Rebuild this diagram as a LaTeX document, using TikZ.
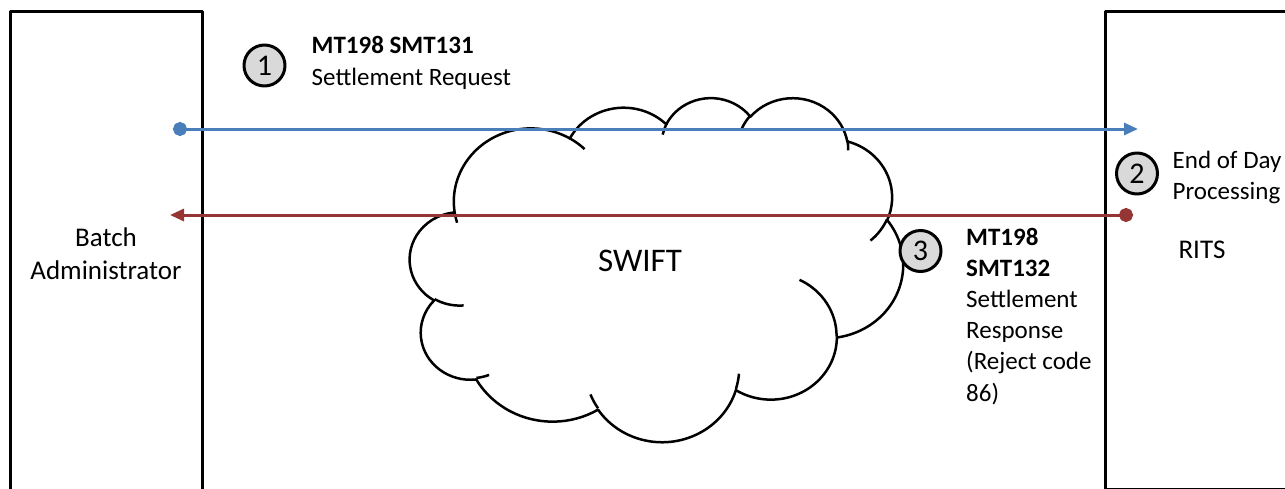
\documentclass[tikz,border=0pt]{standalone}
\usepackage{fontspec}
\setmainfont{Carlito}
\usetikzlibrary{arrows.meta}
\definecolor{reqblue}{RGB}{74,126,187}
\definecolor{resred}{RGB}{150,54,52}
\definecolor{stepgray}{RGB}{217,217,217}
% arc of the Office cloud: x radius, y radius, visual start angle, visual sweep
\newcommand\cloudarc[4]{%
  arc[start angle={atan2((#1)*sin(#3),(#2)*cos(#3))},
      delta angle={atan2((#1)*sin((#3)+(#4)),(#2)*cos((#3)+(#4)))-atan2((#1)*sin(#3),(#2)*cos(#3))+360*round(((#4)-atan2((#1)*sin((#3)+(#4)),(#2)*cos((#3)+(#4)))+atan2((#1)*sin(#3),(#2)*cos(#3)))/360)},
      x radius=#1, y radius=#2]}
\tikzset{
  party/.style={draw, line width=3pt, minimum width=192pt, inner sep=0pt,
    align=center, font=\fontsize{27}{33}\selectfont},
  stepnum/.style={circle, draw, line width=3pt, fill=stepgray,
    minimum size=41pt, inner sep=0pt, font=\fontsize{30}{30}\selectfont},
  msg/.style={anchor=base west, inner sep=0pt, align=left,
    font=\fontsize{25}{31.2}\selectfont},
  flow/.style={line width=3pt},
  cloudline/.style={line width=2.5pt, draw=black},
}
\begin{document}
\begin{tikzpicture}[x=1pt, y=-1pt, line join=round]
\useasboundingbox (0,0) rectangle (1285,488);
\clip (0,0) rectangle (1285,488);

% participants
\node[party, minimum height=486pt] (admin) at (106,254) {Batch\\Administrator};
\node[party, minimum width=194pt, minimum height=478pt] (rits) at (1202,250) {RITS};

% SWIFT cloud (Office cloud geometry)
\begin{scope}[shift={(410,97)}, x=1.1412pt, y=-0.7963pt]
  \draw[cloudline, fill=white] (39,143.7)
    \cloudarc{67.53}{91.90}{-190.4875}{123.7805}
    \cloudarc{53.33}{72.67}{-144.1024}{89.9452}
    \cloudarc{43.65}{59.45}{-145.8079}{99.7230}
    \cloudarc{48.57}{65.95}{-130.9861}{117.2417}
    \cloudarc{53.33}{72.73}{-78.7089}{109.0269}
    \cloudarc{67.75}{92.20}{-46.2673}{130.2690}
    \cloudarc{57.85}{78.67}{0.6250}{114.0333}
    \cloudarc{67.52}{92.15}{22.4516}{115.1726}
    \cloudarc{77.20}{105.43}{66.2426}{75.7110}
    \cloudarc{43.60}{59.18}{-274.9421}{146.7356}
    \cloudarc{43.45}{59.45}{-246.8285}{152.5189}
    -- cycle;
  \draw[cloudline]
    (46.93,261.77) \cloudarc{43.45}{59.45}{86.7420}{26.4295}
    (69.28,348.99) \cloudarc{43.60}{59.18}{73.6105}{11.4475}
    (164.78,390.90) \cloudarc{67.52}{92.15}{137.6242}{14.0811}
    (288.27,347.51) \cloudarc{67.52}{92.15}{6.4533}{15.9984}
    (341.29,229.54) \cloudarc{57.85}{78.67}{-70.2924}{70.9174}
    (417.98,153.54) \cloudarc{53.33}{72.73}{30.3180}{27.7515}
    (383.24,54.26) \cloudarc{48.57}{65.95}{-13.7443}{14.8589}
    (290.78,39.52) \cloudarc{48.57}{65.95}{-149.1815}{18.1954}
    (221.41,47.20) \cloudarc{43.65}{59.45}{-163.4943}{17.6864}
    (140.00,51.92) \cloudarc{67.53}{91.90}{-66.7070}{12.3194}
    (41.27,157.89) \cloudarc{67.53}{91.90}{157.6544}{11.8582};
\end{scope}
\node[font=\fontsize{33}{33}\selectfont] (swift) at (640,261) {SWIFT};

% message flows
\coordinate (reqstart) at (173,129);
\coordinate (reqend) at (1138,129);
\coordinate (resstart) at (1133,215);
\coordinate (resend) at (170,215);
\draw[flow, reqblue, {Circle[length=14pt]}-{Triangle[length=14pt,width=12pt]}] (reqstart) -- (reqend);
\draw[flow, resred, {Circle[length=14pt]}-{Triangle[length=14pt,width=12pt]}] (resstart) -- (resend);

% step markers
\node[stepnum] (s1) at (264.5,65.5) {1};
\node[stepnum] (s2) at (1137,173.5) {2};
\node[stepnum] (s3) at (920.5,251) {3};

% labels (anchored at the baseline of the last line)
\node[msg] (lab1) at (311.5,85) {\textbf{MT198 SMT131}\\Settlement Request};
\node[msg] (lab2) at (1172.5,199.5) {End of Day\\Processing};
\node[msg] (lab3) at (966,401) {\textbf{MT198}\\\textbf{SMT132}\\Settlement\\Response\\(Reject code\\86)};
\end{tikzpicture}
\end{document}
